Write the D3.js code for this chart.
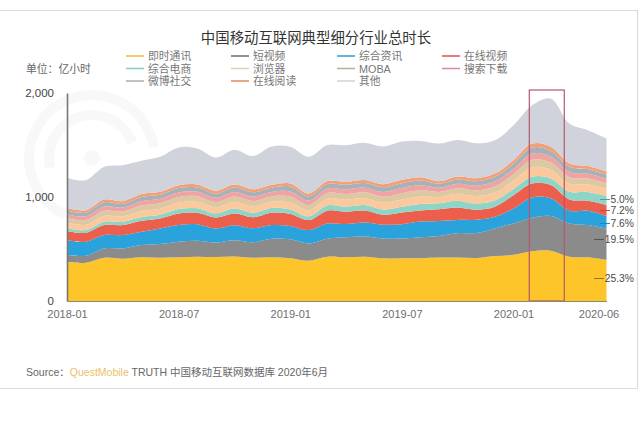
<!DOCTYPE html>
<html>
<head>
<meta charset="utf-8">
<script src="https://cdn.jsdelivr.net/npm/d3@7"></script>
<style>
html, body { margin: 0; padding: 0; background: #fff; }
svg { display: block; font-family: "Liberation Sans", "Noto Sans CJK SC", sans-serif; }
</style>
</head>
<body>
<svg id="chart" width="640" height="429"></svg>
<script>
const months = ['2018-01','2018-02','2018-03','2018-04','2018-05','2018-06','2018-07','2018-08','2018-09','2018-10','2018-11','2018-12',
    '2019-01','2019-02','2019-03','2019-04','2019-05','2019-06','2019-07','2019-08','2019-09','2019-10','2019-11','2019-12',
    '2020-01','2020-02','2020-03','2020-04','2020-05','2020-06'];
const tickLabels = ['2018-01','2018-07','2019-01','2019-07','2020-01','2020-06'];
const seriesNames = ['即时通讯','短视频','综合资讯','在线视频','综合电商','浏览器','MOBA','搜索下载','微博社交','在线阅读','其他'];
const colors = ['#fdc52c','#8b8b8c','#29a3dc','#ec5f4e','#8ed5c8','#fbc99c','#dcc8a2','#f0a3a3','#a8b1b8','#f4a077','#d0d3dc'];
const legendColors = ['#f5b942','#6b6b6b','#2a9fd0','#d9534f','#7fcfc4','#e3cdb4','#b5ae98','#d98a9a','#a9b0ae','#e58a5c','#cfd2d4'];

const im = [375,368,416,407,420,417,420,425,422,428,415,420,412,388,426,420,425,410,412,412,418,418,413,432,445,478,484,426,420,394];
const shortVideo = [70,67,90,99,118,131,150,154,141,157,150,179,182,166,173,192,195,192,189,202,208,234,240,266,301,323,333,320,310,300];
const news = [138,134,128,128,128,150,160,160,134,144,134,131,128,128,147,128,134,131,138,150,144,128,128,112,144,195,170,122,138,122];
const video = [90,86,96,96,106,96,112,109,106,112,106,118,115,96,122,118,115,96,112,106,112,118,96,96,128,134,128,109,96,108];
const ecommerce = [30,28,32,32,36,36,42,44,40,48,44,46,44,36,52,50,54,52,56,62,58,66,60,60,60,64,64,74,84,84];
const browser = [52,50,56,52,58,58,62,62,58,62,60,60,66,58,64,66,66,66,70,72,60,68,72,74,78,90,84,76,72,72];
const moba = [44,45,50,47,52,52,54,53,50,54,53,52,59,52,54,55,56,56,60,60,49,52,55,60,63,74,70,63,57,52];
const search = [36,36,41,38,42,42,44,43,41,44,43,43,48,42,44,45,45,46,49,48,40,43,45,48,51,60,57,51,46,43];
const weibo = [35,35,40,36,41,40,42,42,40,42,41,41,46,40,42,43,44,44,47,47,38,41,43,46,50,57,55,49,44,41];
const reading = [24,24,27,25,27,28,28,28,27,28,28,28,31,28,29,29,29,30,32,31,25,28,29,32,34,39,38,33,30,28];
const other = [291,288,314,346,320,336,362,346,320,336,320,368,352,352,346,352,358,362,368,349,362,352,336,320,336,368,464,384,346,320];
const seriesValues = [im, shortVideo, news, video, ecommerce, browser, moba, search, weibo, reading, other];

// share labels at the right edge, same order as the lower bands
const shareLabels = ['25.3%','19.5%','7.6%','7.2%','5.0%'];
const shareColors = ['#8a7a3a','#555','#1f86b8','#d9453a','#4d9c90'];
const shareNudge = [-2, -5, 1, 0, -1]; // keeps the leaders clear of each other
const highlightMonths = ['2020-02','2020-03'];

const rows = months.map((m, i) => {
    const row = { month: m };
    seriesNames.forEach((s, j) => { row[s] = seriesValues[j][i]; });
    return row;
});

const svg = d3.select('#chart');
const x = d3.scalePoint().domain(months).range([67, 606.5]);
const y = d3.scaleLinear().domain([0, 2000]).range([301, 93]);

svg.append('defs').append('filter')
    .attr('id', 'soft')
    .append('feGaussianBlur')
    .attr('stdDeviation', 0.6);

// card outline
svg.append('path')
    .attr('d', 'M0,10.5H637.5V388.5H0')
    .attr('fill', 'none')
    .attr('stroke', '#dcdcdc')
    .attr('stroke-width', 1.2);

// watermark rings behind the chart
const ring = d3.arc();
const ringG = svg.append('g').attr('transform', 'translate(92,158)').attr('fill', '#f8f8f8');
[[58, 68, -2.7, 1.4], [38, 48, -1.8, 1.2], [0, 8, 0, 6.3]].forEach(r => {
    ringG.append('path').attr('d', ring({ innerRadius: r[0], outerRadius: r[1], startAngle: r[2], endAngle: r[3] }));
});

const layers = d3.stack().keys(seriesNames)(rows);
const area = d3.area()
    .x(d => x(d.data.month))
    .y0(d => y(d[0]))
    .y1(d => y(d[1]))
    .curve(d3.curveCatmullRom.alpha(0.5));

svg.append('g')
    .attr('filter', 'url(#soft)')
    .selectAll('path')
    .data(layers)
    .join('path')
    .attr('d', area)
    .attr('fill', (d, i) => colors[i]);

// highlight box around the peak
const step = x.step();
svg.append('rect')
    .attr('x', x(highlightMonths[0]) - step * 0.15)
    .attr('y', 90)
    .attr('width', x(highlightMonths[1]) - x(highlightMonths[0]) + step * 0.88)
    .attr('height', y(0) - 90)
    .attr('fill', 'none')
    .attr('stroke', '#b8566c')
    .attr('stroke-width', 1.2);

// axes
const xAxis = svg.append('g')
    .attr('transform', `translate(0,${y(0)})`)
    .call(d3.axisBottom(x).tickValues(tickLabels).tickSize(0).tickPadding(9));
xAxis.select('.domain').attr('stroke', '#8a8a6a').attr('stroke-width', 1.2);
xAxis.selectAll('text').attr('font-size', 11).attr('fill', '#6e6e6e').attr('font-family', null);
xAxis.selectAll('.tick').filter(d => d === '2020-06').select('text').attr('dx', -8);

const yAxis = svg.append('g')
    .attr('transform', 'translate(67,0)')
    .call(d3.axisLeft(y).tickValues([0, 1000, 2000]).tickFormat(d3.format(',')).tickSize(0).tickPadding(13));
yAxis.select('.domain').attr('stroke', '#777').attr('stroke-width', 1.6);
yAxis.selectAll('text').attr('font-size', 11.5).attr('fill', '#444').attr('font-family', null);

// share labels with leaders, placed at the middle of each band
const last = layers.map(l => l[l.length - 1]);
const shares = svg.append('g');
shareLabels.forEach((label, i) => {
    const midY = y((last[i][0] + last[i][1]) / 2) + shareNudge[i];
    const right = label.length > 4 ? 604 : 610;
    shares.append('line')
        .attr('x1', right - 10).attr('x2', right)
        .attr('y1', midY).attr('y2', midY)
        .attr('stroke', shareColors[i]).attr('stroke-width', 1);
    shares.append('text')
        .attr('x', 634).attr('y', midY + 3.5)
        .attr('text-anchor', 'end')
        .attr('font-size', 10.3)
        .attr('fill', '#4a4a4a')
        .text(label);
});

// title, unit, source
svg.append('text')
    .attr('x', 316).attr('y', 43)
    .attr('text-anchor', 'middle')
    .attr('font-size', 14.4)
    .attr('fill', '#333')
    .text('中国移动互联网典型细分行业总时长');

svg.append('text')
    .attr('x', 26).attr('y', 73)
    .attr('font-size', 10.8)
    .attr('fill', '#666')
    .text('单位：亿小时');

const source = svg.append('text')
    .attr('x', 26).attr('y', 376)
    .attr('font-size', 10.5)
    .attr('fill', '#666');
source.append('tspan').text('Source：');
source.append('tspan').attr('fill', '#eabf6a').text('QuestMobile');
source.append('tspan').text(' TRUTH 中国移动互联网数据库 2020年6月');

// legend: 4 columns, filled row by row
const legendX = [126, 231, 337, 442];
const legendY = [56, 68.5, 81];
const legend = svg.append('g');
seriesNames.forEach((name, i) => {
    const cx = legendX[i % 4];
    const cy = legendY[Math.floor(i / 4)];
    legend.append('line')
        .attr('x1', cx).attr('x2', cx + 18)
        .attr('y1', cy).attr('y2', cy)
        .attr('stroke', legendColors[i]).attr('stroke-width', 1.5);
    legend.append('text')
        .attr('x', cx + 22).attr('y', cy + 4)
        .attr('font-size', 10.8)
        .attr('fill', '#777')
        .text(name);
});
</script>
</body>
</html>
